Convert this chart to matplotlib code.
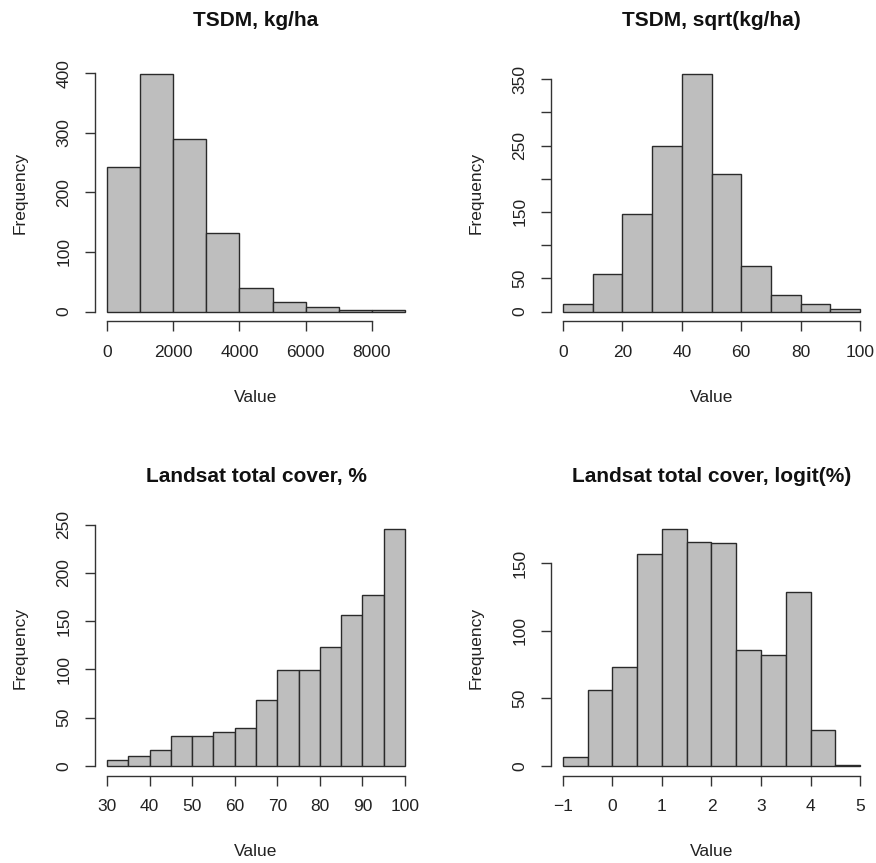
import matplotlib
matplotlib.use("Agg")
import matplotlib.pyplot as plt
import numpy as np

plt.rcParams['font.family'] = ['Liberation Sans', 'DejaVu Sans']

# ---- data ----
tsdm_edges = [0, 1000, 2000, 3000, 4000, 5000, 6000, 7000, 8000, 9000]
tsdm_counts = [242, 398, 290, 131, 40, 16, 7, 3, 2]

sqrt_edges = [0, 10, 20, 30, 40, 50, 60, 70, 80, 90, 100]
sqrt_counts = [11, 56, 147, 249, 357, 207, 68, 25, 12, 4]

cover_edges = [30, 35, 40, 45, 50, 55, 60, 65, 70, 75, 80, 85, 90, 95, 100]
cover_counts = [6, 10, 17, 31, 31, 35, 39, 68, 99, 99, 123, 156, 177, 245]

logit_edges = [-1, -0.5, 0, 0.5, 1, 1.5, 2, 2.5, 3, 3.5, 4, 4.5, 5]
logit_counts = [7, 56, 73, 157, 175, 166, 165, 86, 82, 129, 27, 1]

titles = ["TSDM, kg/ha", "TSDM, sqrt(kg/ha)",
          "Landsat total cover, %", "Landsat total cover, logit(%)"]

xticks = [[0, 2000, 4000, 6000, 8000],
          [0, 20, 40, 60, 80, 100],
          [30, 40, 50, 60, 70, 80, 90, 100],
          [-1, 0, 1, 2, 3, 4, 5]]
xticklabels = [["0", "2000", "4000", "6000", "8000"],
               ["0", "20", "40", "60", "80", "100"],
               ["30", "40", "50", "60", "70", "80", "90", "100"],
               ["\u22121", "0", "1", "2", "3", "4", "5"]]
yticks = [[0, 100, 200, 300, 400],
          [0, 50, 100, 150, 200, 250, 300, 350],
          [0, 50, 100, 150, 200, 250],
          [0, 50, 100, 150]]
yticklabels = [["0", "100", "200", "300", "400"],
               ["0", "50", "", "150", "", "250", "", "350"],
               ["0", "50", "100", "150", "200", "250"],
               ["0", "50", "100", "150"]]

datasets = [(tsdm_edges, tsdm_counts), (sqrt_edges, sqrt_counts),
            (cover_edges, cover_counts), (logit_edges, logit_counts)]

W, H = 876, 863
fig = plt.figure(figsize=(W / 100, H / 100), dpi=100)

# plot regions in pixels: (left, right, top, bottom)
regions = [(95, 417, 65, 321), (551, 872, 65, 321),
           (95, 417, 520, 775.5), (551, 872, 520, 775.5)]

text_col = "#222222"
for i, ((edges, counts), (l, r, t, b)) in enumerate(zip(datasets, regions)):
    ax = fig.add_axes([l / W, 1 - b / H, (r - l) / W, (b - t) / H])
    edges = np.asarray(edges, dtype=float)
    counts = np.asarray(counts, dtype=float)
    ax.bar(edges[:-1], counts, width=np.diff(edges), align='edge',
           color='#BEBEBE', edgecolor='#2a2a2a', linewidth=1.0)
    x0, x1 = edges[0], edges[-1]
    dx = (x1 - x0) * 0.04
    ax.set_xlim(x0 - dx, x1 + dx)
    ym = counts.max()
    ax.set_ylim(-0.04 * ym, ym * 1.04)
    for s in ['top', 'right']:
        ax.spines[s].set_visible(False)
    ax.spines['left'].set_bounds(yticks[i][0], yticks[i][-1])
    ax.spines['bottom'].set_bounds(xticks[i][0], xticks[i][-1])
    for s in ['left', 'bottom']:
        ax.spines[s].set_color('#333333')
        ax.spines[s].set_linewidth(1.0)
    ax.set_xticks(xticks[i])
    ax.set_xticklabels(xticklabels[i], fontsize=12.5, color=text_col)
    ax.set_yticks(yticks[i])
    ax.set_yticklabels(yticklabels[i], fontsize=12.5, color=text_col,
                       rotation=90, va='center')
    ax.tick_params(axis='both', length=7, width=1.0, color='#333333', pad=10)
    ax.patch.set_visible(False)

    # axis labels
    cx = (l + r) / 2
    fig.text(cx / W, 1 - (b + 76) / H, "Value", ha='center', va='center',
             fontsize=12.5, color=text_col)
    fig.text((l - 75) / W, 1 - ((t + b) / 2) / H, "Frequency", ha='center',
             va='center', rotation=90, fontsize=12.5, color=text_col)
    fig.text(cx / W, 1 - (t - 44) / H, titles[i], ha='center', va='center',
             fontsize=15, fontweight='bold', color='#111111')

fig.savefig("out.png", dpi=100, facecolor='white')
